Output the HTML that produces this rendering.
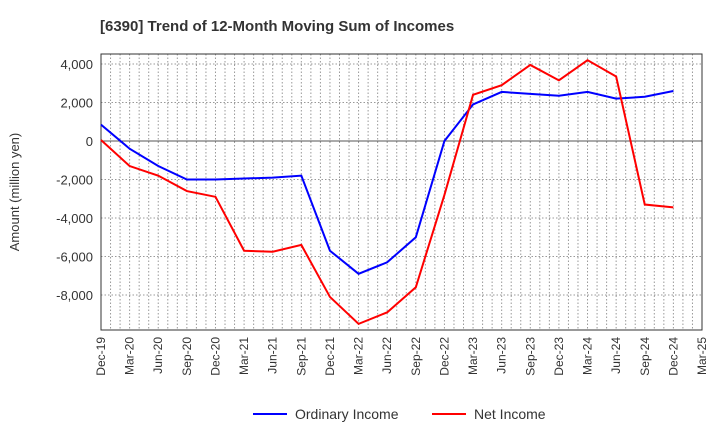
<!DOCTYPE html>
<html><head><meta charset="utf-8"><style>
body{margin:0;background:#fff;font-family:"Liberation Sans",sans-serif}
</style></head><body>
<svg width="720" height="440" xmlns="http://www.w3.org/2000/svg" font-family="Liberation Sans, sans-serif">
<text x="100" y="31" font-size="15" font-weight="bold" fill="#333">[6390]  Trend of 12-Month Moving Sum of Incomes</text>
<g id="grid"></g>
<g id="axes"></g>
<g id="series"></g>
<text transform="translate(19,192) rotate(-90)" text-anchor="middle" font-size="13" fill="#333">Amount (million yen)</text>
<g>
<line x1="253" y1="414" x2="287" y2="414" stroke="#0000ff" stroke-width="2"/>
<text x="295" y="419" font-size="14" fill="#333">Ordinary Income</text>
<line x1="432" y1="414" x2="466" y2="414" stroke="#ff0000" stroke-width="2"/>
<text x="474" y="419" font-size="14" fill="#333">Net Income</text>
</g>
</svg>
<script>
const categories=["Dec-19","Mar-20","Jun-20","Sep-20","Dec-20","Mar-21","Jun-21","Sep-21","Dec-21","Mar-22","Jun-22","Sep-22","Dec-22","Mar-23","Jun-23","Sep-23","Dec-23","Mar-24","Jun-24","Sep-24","Dec-24","Mar-25"];
const ordinaryIncome=[850,-400,-1300,-2000,-2000,-1950,-1900,-1800,-5700,-6900,-6300,-5000,0,1900,2550,2450,2350,2550,2200,2300,2600];
const netIncome=[50,-1300,-1800,-2600,-2900,-5700,-5750,-5400,-8100,-9500,-8900,-7600,-2800,2400,2900,3950,3150,4200,3350,-3300,-3450];
const yTicks=[4000,2000,0,-2000,-4000,-6000,-8000];
const NS="http://www.w3.org/2000/svg";
const L=101,R=702,T=54,B=330,yMin=-9818,yMax=4520;
const xs=i=>L+(R-L)*i/(categories.length-1);
const ys=v=>B-(v-yMin)/(yMax-yMin)*(B-T);
function mk(tag,attrs,parent){const e=document.createElementNS(NS,tag);for(const k in attrs)e.setAttribute(k,attrs[k]);parent.appendChild(e);return e;}
const grid=document.getElementById('grid'),axes=document.getElementById('axes'),series=document.getElementById('series');
const nm=(categories.length-1)*3;
for(let m=1;m<nm;m++){const x=L+(R-L)*m/nm;const g=mk('line',{x1:x,x2:x,y1:T,y2:B,stroke:'#999','stroke-dasharray':'1.5,2','stroke-width':1},grid);

}
yTicks.forEach(v=>{const y=ys(v);const g=mk('line',{x1:L,x2:R,y1:y,y2:y,stroke:v===0?'#555':'#999','stroke-dasharray':v===0?'none':'1.5,2','stroke-width':1},grid);


const t=mk('text',{x:L-8,y:y+5,'text-anchor':'end','font-size':13,fill:'#333'},axes);t.textContent=v.toLocaleString('en-US');

});
const fr=mk('rect',{x:L,y:T,width:R-L,height:B-T,fill:'none',stroke:'#333','stroke-width':1},axes);


categories.forEach((c,i)=>{const x=xs(i);const t=mk('text',{transform:`translate(${x+4},${B+7}) rotate(-90)`,'text-anchor':'end','font-size':12,fill:'#333'},axes);t.textContent=c;

});
function line(data,color,name){const p=mk('polyline',{points:data.map((v,i)=>xs(i)+','+ys(v)).join(' '),fill:'none',stroke:color,'stroke-width':2},series);

}
line(ordinaryIncome,'#0000ff','ordinary-income-line');
line(netIncome,'#ff0000','net-income-line');
</script>
</body></html>
